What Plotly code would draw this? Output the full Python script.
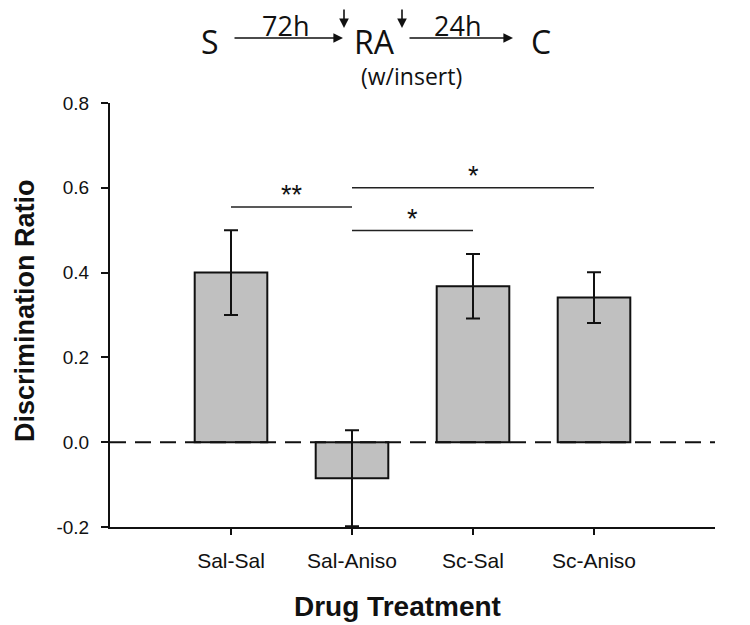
import plotly.graph_objects as go

categories = ["Sal-Sal", "Sal-Aniso", "Sc-Sal", "Sc-Aniso"]
means = [0.40, -0.085, 0.368, 0.341]
sems = [0.10, 0.113, 0.076, 0.06]
y_ticks = [-0.2, 0.0, 0.2, 0.4, 0.6, 0.8]
y_ticklabels = ["-0.2", "0.0", "0.2", "0.4", "0.6", "0.8"]

# significance comparisons: (from, to, height, label)
sig_from = ["Sal-Sal", "Sal-Aniso", "Sal-Aniso"]
sig_to = ["Sal-Aniso", "Sc-Aniso", "Sc-Sal"]
sig_y = [0.555, 0.60, 0.499]
sig_label = ["**", "*", "*"]

# page has an 8px body margin; figure is sized to fill the 750x625 window
W, H = 742, 617
L, T = 102, 95
pw, ph = 605, 424
R, B = W - L - pw, H - T - ph
PX0, PY1 = 110, 527  # page pixel of plot-area left / bottom


def px(x):
    return (x - PX0) / pw


def py(y):
    return (PY1 - y) / ph


fig = go.Figure()
fig.add_trace(go.Bar(
    x=categories, y=means, width=0.6,
    marker=dict(color="#c0c0c0", line=dict(color="#111111", width=2)),
    error_y=dict(type="data", array=sems, visible=True, color="#111111",
                 thickness=2, width=7),
    showlegend=False,
))

shapes = [dict(type="line", xref="paper", yref="y", x0=0, x1=1, y0=0, y1=0,
               line=dict(color="#111111", width=2, dash="16px,9px"))]
annotations = []
idx = {c: i for i, c in enumerate(categories)}
for a, b, h, lab in zip(sig_from, sig_to, sig_y, sig_label):
    shapes.append(dict(type="line", xref="x", yref="y", x0=idx[a], x1=idx[b],
                       y0=h, y1=h, line=dict(color="#222222", width=1.5)))
    annotations.append(dict(x=(idx[a] + idx[b]) / 2, y=h, xref="x", yref="y",
                            text=lab, showarrow=False, yanchor="middle", yshift=12,
                            font=dict(size=27, color="#111111", family="Liberation Sans")))

hf = "Open Sans, Liberation Sans"
for txt, x, y, s in [("S", 210, 41, 32), ("RA", 374, 41, 32), ("C", 541, 41, 32),
                     ("72h", 285, 25, 27), ("24h", 457, 25, 27),
                     ("(w/insert)", 411, 76, 23)]:
    annotations.append(dict(x=px(x), y=py(y), xref="paper", yref="paper", text=txt,
                            showarrow=False, font=dict(family=hf, size=s, color="#111111"),
                            xanchor="center", yanchor="middle"))
# arrows: head (x,y), tail (x,y) in page pixels
for hx, hy, tx, ty in [(343, 38, 233, 38), (513, 38, 408, 38), (344, 28, 344, -5), (402, 28, 402, -5)]:
    annotations.append(dict(x=px(hx), y=py(hy), xref="paper", yref="paper", text="",
                            showarrow=True, ax=tx - hx, ay=ty - hy, arrowhead=2,
                            arrowsize=1.2, arrowwidth=1.6, arrowcolor="#111111"))

# axis titles
annotations.append(dict(x=px(397), y=py(606), xref="paper", yref="paper",
                        text="<b>Drug Treatment</b>", showarrow=False,
                        font=dict(size=28, color="#111111"), xanchor="center", yanchor="middle"))
annotations.append(dict(x=px(25), y=py(311), xref="paper", yref="paper",
                        text="<b>Discrimination Ratio</b>", showarrow=False, textangle=-90,
                        font=dict(size=27, color="#111111"), xanchor="center", yanchor="middle"))

fig.update_layout(
    width=W, height=H,
    margin=dict(l=L, r=R, t=T, b=B),
    plot_bgcolor="white", paper_bgcolor="white",
    shapes=shapes, annotations=annotations,
    font=dict(family="Liberation Sans, Arial", color="#111111"),
    xaxis=dict(range=[-1, 4], showline=True, linecolor="#111111", linewidth=2,
               ticks="outside", ticklen=6, tickwidth=2, tickcolor="#111111",
               tickfont=dict(size=21), ticklabelstandoff=8,
               showgrid=False, zeroline=False),
    yaxis=dict(range=[-0.2, 0.8], tickvals=y_ticks, ticktext=y_ticklabels,
               showline=True, linecolor="#111111", linewidth=2,
               ticks="outside", ticklen=7, tickwidth=2, tickcolor="#111111",
               tickfont=dict(size=19), ticklabelstandoff=8,
               showgrid=False, zeroline=False),
)

fig.write_html("out.html")
